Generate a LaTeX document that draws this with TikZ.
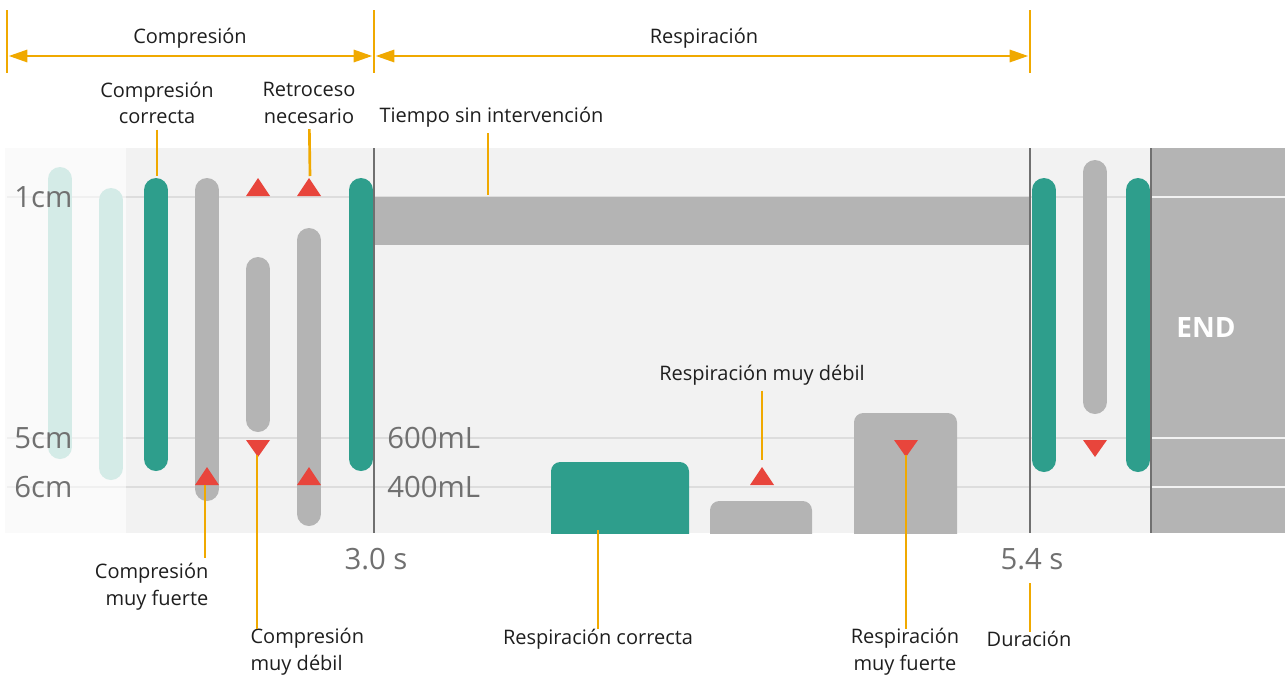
\documentclass[tikz,border=0pt]{standalone}
\usepackage{fontspec}
\setmainfont{Open Sans}
\usepackage{tikz}
\usetikzlibrary{arrows.meta,positioning,calc}
\definecolor{cprteal}{HTML}{2E9E8C}
\definecolor{cprpale}{HTML}{D4EBE7}
\definecolor{cprgray}{HTML}{B4B4B4}
\definecolor{cprpanel}{HTML}{F2F2F2}
\definecolor{cprside}{HTML}{FAFAFA}
\definecolor{cprgrid}{HTML}{DDDDDD}
\definecolor{cprdark}{HTML}{707070}
\definecolor{cprred}{HTML}{E8453C}
\definecolor{cprgold}{HTML}{F0A900}
\definecolor{cprink}{HTML}{1E1E1E}

\begin{document}
\begin{tikzpicture}[
  x=0.75pt, y=-0.75pt,
  every node/.style={inner sep=4pt},
  lbl/.style     ={font=\fontsize{15}{20}\selectfont, text=cprink, align=center},
  axislbl/.style ={font=\fontsize{22}{24}\selectfont, text=cprdark, inner sep=0pt},
  good/.style    ={draw=cprteal, line width=18pt, line cap=round},
  ghost/.style   ={draw=cprpale, line width=18pt, line cap=round},
  bad/.style     ={draw=cprgray, line width=18pt, line cap=round},
  alert/.style   ={fill=cprred},
  leader/.style  ={draw=cprgold, line width=2pt},
  longleader/.style={leader, shorten >=-4.5pt},
  dimline/.style ={draw=cprgold, line width=2.2pt},
  gridline/.style={draw=cprgrid, line width=1.6pt},
  divider/.style ={draw=cprdark, line width=2.2pt}]

% a bar at x=#1 from top #2 to bottom #3 (layout pixels)
\newcommand{\cprbar}[4]{\draw[#4] (#1,#2+12) -- (#1,#3-12);}
\newcommand{\upmark}[2]{\path[alert] (#1-12,#2) -- (#1+12,#2) -- (#1,#2-18) -- cycle;}
\newcommand{\downmark}[2]{\path[alert] (#1-12,#2) -- (#1+12,#2) -- (#1,#2+17) -- cycle;}

\useasboundingbox (0,0) rectangle (1285,675);

% =========================  panels  ==================================
\fill[cprside]  (5,148) rectangle (126,533);
\fill[cprpanel] (126,148) rectangle (1285,533);
\fill[cprgray]  (1151,148) rectangle (1285,533);

\foreach \y in {197,438,487}{
  \draw[gridline, draw=cprgrid!45] (7,\y) -- (126,\y);
  \draw[gridline] (126,\y) -- (1151,\y);
  \draw[gridline, draw=cprpanel] (1151,\y) -- (1285,\y);}

% ======================  compression part  ===========================
\cprbar{60}{167}{459}{ghost}
\cprbar{111}{188}{480}{ghost}
\cprbar{156}{178}{471}{good}
\cprbar{207}{178}{501}{bad}
\cprbar{258}{257}{432}{bad}
\cprbar{309}{228}{526}{bad}
\cprbar{361}{178}{471}{good}

\upmark{258}{196}
\upmark{309}{196}
\upmark{207}{485}
\upmark{309}{485}
\downmark{258}{440}

% ======================  breathing part  =============================
\fill[cprgray] (375,197) rectangle (1030,245);
\begin{scope}
  \clip (0,148) rectangle (1285,533);
  \fill[cprteal, rounded corners=7pt] (551,462) rectangle (689,560);
  \fill[cprgray, rounded corners=7pt] (710,501) rectangle (812,560);
  \fill[cprgray, rounded corners=7pt] (854,413) rectangle (957,560);
\end{scope}
\upmark{762}{485}
\downmark{906}{440}

\cprbar{1044}{178}{472}{good}
\cprbar{1095}{160}{414}{bad}
\cprbar{1138}{178}{472}{good}
\downmark{1095}{440}

\foreach \x in {374,1030,1151}{\draw[divider] (\x,148) -- (\x,533);}

\node[font=\fontsize{21}{24}\selectfont\bfseries, text=white] (endtag) at (1206,328) {END};

% =========================  scales  ==================================
\node[axislbl, anchor=west] (cm1) at (14,197) {1cm};
\node[axislbl, anchor=west] (cm5) at (14,438) {5cm};
\node[axislbl, anchor=west] (cm6) at (14,487) {6cm};
\node[axislbl, anchor=west] (ml6) at (387,438) {600mL};
\node[axislbl, anchor=west] (ml4) at (387,487) {400mL};
\node[axislbl] (t30) at (376,559) {3.0 s};
\node[axislbl] (t54) at (1032,559) {5.4 s};

% ========================  phase span  ===============================
\coordinate (tA) at (7,56);
\coordinate (tB) at (374,56);
\coordinate (tC) at (1030,56);
\foreach \c in {tA,tB,tC}{\draw[dimline] (\c) ++(0,-46) -- ++(0,63);}
\draw[dimline, {Triangle[length=14pt,width=9pt]}-{Triangle[length=14pt,width=9pt]}]
  ([xshift=1.2pt]tA) -- ([xshift=-1.2pt]tB);
\draw[dimline, {Triangle[length=14pt,width=9pt]}-{Triangle[length=14pt,width=9pt]}]
  ([xshift=1.2pt]tB) -- ([xshift=-1.2pt]tC);
\node[lbl] (cmpr) at (190,38) {Compresión};
\node[lbl] (resp) at (704,38) {Respiración};

% ========================  call-outs  ================================
\node[lbl] (ccl) at (157,103) {Compresión\\correcta};
\node[lbl] (rnl) at (309,103) {Retroceso\\necesario};
\node[lbl, anchor=west] (tsil) at (374,117) {Tiempo sin intervención};
\node[lbl, align=right, anchor=east] (cmfl) at (214,587) {Compresión\\muy fuerte};
\node[lbl, align=left, anchor=west] (cmdl) at (245,652) {Compresión\\muy débil};
\node[lbl] (rcl) at (598,639) {Respiración correcta};
\node[lbl] (rmdl) at (762,375) {Respiración muy débil};
\node[lbl] (rmfl) at (905,652) {Respiración\\muy fuerte};
\node[lbl] (durl) at (1029,639) {Duración};

\coordinate (cc) at (157,176);
\coordinate (rn) at (310,176);
\coordinate (tsi) at (488,195);
\coordinate (cmf) at (205,485);
\coordinate (cmd) at (257,455);
\coordinate (rc) at (598,530);
\coordinate (rmd) at (762,460);
\coordinate (rmf) at (906,455);
\coordinate (dur) at (1030,583);

\draw[leader] (ccl) -- (cc);
\draw[leader] (rnl) -- (rn);
\draw[leader] (tsi) -- (tsi |- tsil.south);
\draw[leader] (cmf) -- (cmf |- cmfl.north);
\draw[longleader] (cmd) -- (cmd |- cmdl.north);
\draw[longleader] (rc) -- (rcl);
\draw[leader] (rmdl) -- (rmd);
\draw[longleader] (rmf) -- (rmf |- rmfl.north);
\draw[longleader] (dur) -- (dur |- durl.north);

\end{tikzpicture}
\end{document}
